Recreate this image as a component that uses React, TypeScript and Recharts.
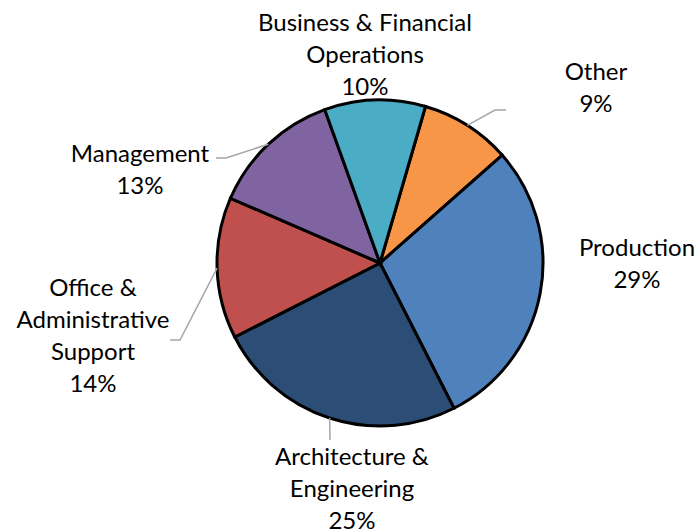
import React from 'react';
import { PieChart, Pie, Cell } from 'recharts';

const categories = [
  'Other',
  'Production',
  'Architecture & Engineering',
  'Office & Administrative Support',
  'Management',
  'Business & Financial Operations',
];
const shares = [9, 29, 25, 14, 13, 10];
const labelLines = [
  ['Other'],
  ['Production'],
  ['Architecture &', 'Engineering'],
  ['Office &', 'Administrative', 'Support'],
  ['Management'],
  ['Business & Financial', 'Operations'],
];
const colors = ['#F79646', '#4F81BD', '#2C4D75', '#C0504D', '#8064A2', '#4BACC6'];

const data = categories.map((name, i) => ({ name, value: shares[i] }));

// label layout relative to pie centre (first text line centre)
const labelOffsets = [
  { dx: 216, dy: -193 },
  { dx: 257, dy: -17 },
  { dx: -28, dy: 192 },
  { dx: -287, dy: 23 },
  { dx: -240, dy: -111 },
  { dx: -15, dy: -242 },
];
// leader line points relative to pie centre (after start on the rim)
const leaderPoints: Array<Array<[number, number]>> = [
  [[115, -153], [126, -153]],
  [],
  [[-50, 177]],
  [[-200, 77], [-210, 77]],
  [[-154, -105], [-164, -105]],
  [],
];

const RAD = Math.PI / 180;
const FONT = "Lato, 'Open Sans', sans-serif";
const LINE_H = 32;

const renderLabel = (props: any) => {
  const { cx, cy, midAngle, outerRadius, index, percent } = props;
  const off = labelOffsets[index];
  const lines = [...labelLines[index], `${Math.round(percent * 100)}%`];
  const sx = cx + outerRadius * Math.cos(-midAngle * RAD);
  const sy = cy + outerRadius * Math.sin(-midAngle * RAD);
  const pts = leaderPoints[index];
  let path = '';
  if (pts.length) {
    path = `M${sx},${sy}` + pts.map(([x, y]) => ` L${cx + x},${cy + y}`).join('');
  }
  return (
    <g key={`lbl-${index}`}>
      {path && <path d={path} stroke="#A6A6A6" strokeWidth={1.5} fill="none" />}
      <text
        x={cx + off.dx}
        y={cy + off.dy}
        textAnchor="middle"
        fill="#000"
        fontFamily={FONT}
        fontSize={24}
      >
        {lines.map((t, i) => (
          <tspan key={i} x={cx + off.dx} y={cy + off.dy + i * LINE_H} dominantBaseline="central">
            {t}
          </tspan>
        ))}
      </text>
    </g>
  );
};

export default function App() {
  return (
    <div style={{ position: 'absolute', left: 0, top: 0, width: 700, height: 532, background: '#fff' }}>
      <PieChart width={700} height={532} margin={{ top: 0, right: 0, bottom: 0, left: 0 }}>
        <Pie
          data={data}
          dataKey="value"
          nameKey="name"
          cx={380}
          cy={263}
          outerRadius={163}
          startAngle={73.8}
          endAngle={-286.2}
          stroke="#000"
          strokeWidth={3}
          isAnimationActive={false}
          label={renderLabel}
          labelLine={false}
        >
          {data.map((d, i) => (
            <Cell key={d.name} fill={colors[i]} />
          ))}
        </Pie>
      </PieChart>
    </div>
  );
}
